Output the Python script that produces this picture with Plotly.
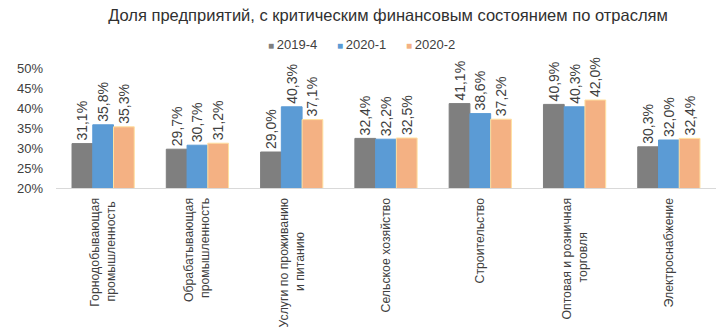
import plotly.graph_objects as go

categories = [
    ["Горнодобывающая", "промышленность"],
    ["Обрабатывающая", "промышленность"],
    ["Услуги по проживанию", "и питанию"],
    ["Сельское хозяйство"],
    ["Строительство"],
    ["Оптовая и розничная", "торговля"],
    ["Электроснабжение"],
]
s2019_4 = [31.1, 29.7, 29.0, 32.4, 41.1, 40.9, 30.3]
s2020_1 = [35.8, 30.7, 40.3, 32.2, 38.6, 40.3, 32.0]
s2020_2 = [35.3, 31.2, 37.1, 32.5, 37.2, 42.0, 32.4]
series_names = ["2019-4", "2020-1", "2020-2"]
colors = ["#7f7f7f", "#5b9bd5", "#f4b183"]
edge_colors = ["#7f7f7f", "#5b9bd5", "#ffe0a0"]

NBSP = "\u00a0"
CLEAR = "rgba(0,0,0,0)"


def centered_label(lines):
    # centre shorter lines of a rotated label (lines are end-anchored by plotly)
    longest = max(len(s) for s in lines)
    out = []
    for s in lines:
        pad = int(round((longest - len(s)) * 0.95))
        out.append(s + NBSP * pad)
    return "<br>".join(out)


x_labels = [centered_label(c) for c in categories]

FONT = "Liberation Sans, Arial, sans-serif"

fig = go.Figure()
for name, vals, c, ec in zip(series_names, [s2019_4, s2020_1, s2020_2], colors, edge_colors):
    fig.add_trace(go.Bar(
        x=x_labels, y=vals, name=name, showlegend=False,
        marker=dict(color=c, line=dict(color=ec, width=1)),
        texttemplate="%{y:.1f}%" + NBSP * 2, textposition="outside", textangle=-90,
        textfont=dict(size=14, color="#404040", family=FONT),
        cliponaxis=False, constraintext="none",
    ))
    # legend-only entry: coloured small square glyph + label
    fig.add_trace(go.Scatter(
        x=[None], y=[None], mode="markers",
        marker=dict(color=CLEAR, size=0, line=dict(width=0, color=CLEAR)),
        name=f'<span style="color:{c};font-size:10px">■{NBSP}</span>{name}',
        showlegend=True, hoverinfo="skip",
    ))
# empty spacer entry so the last legend label is not clipped
fig.add_trace(go.Scatter(x=[None], y=[None], mode="markers",
                         marker=dict(color=CLEAR, size=0, line=dict(width=0, color=CLEAR)),
                         name=NBSP, showlegend=True, hoverinfo="skip"))

fig.update_layout(
    width=720, height=330,
    margin=dict(l=56, r=4, t=68, b=142),
    paper_bgcolor="white", plot_bgcolor="white",
    separators=", ",
    barmode="group", bargap=0.34, bargroupgap=0,
    font=dict(family=FONT, size=13, color="#404040"),
    title=dict(text="Доля предприятий, с критическим финансовым состоянием по отраслям",
               x=388 / 720, xref="container", xanchor="center",
               y=1 - 15 / 330, yref="container", yanchor="middle",
               font=dict(size=16.5, color="#303030", family=FONT)),
    legend=dict(orientation="h", x=(229 - 56) / 664, xanchor="left", y=1.2, yanchor="middle",
                font=dict(size=13, color="#404040", family=FONT), itemwidth=30,
                entrywidth=24, entrywidthmode="pixels",
                bgcolor=CLEAR),
    showlegend=True,
)
fig.update_yaxes(range=[20, 50], dtick=5, ticksuffix="%", showgrid=False, zeroline=False,
                 showline=False, tickfont=dict(size=13, color="#404040", family=FONT), ticks="",
                 ticklabelstandoff=12, automargin=False)
fig.update_xaxes(tickangle=-90, showline=True, linecolor="#d9d9d9", linewidth=1,
                 tickfont=dict(size=12.3, color="#404040", family=FONT), ticks="", showgrid=False,
                 ticklabelstandoff=4, automargin=False)

fig.write_html("out.html")
